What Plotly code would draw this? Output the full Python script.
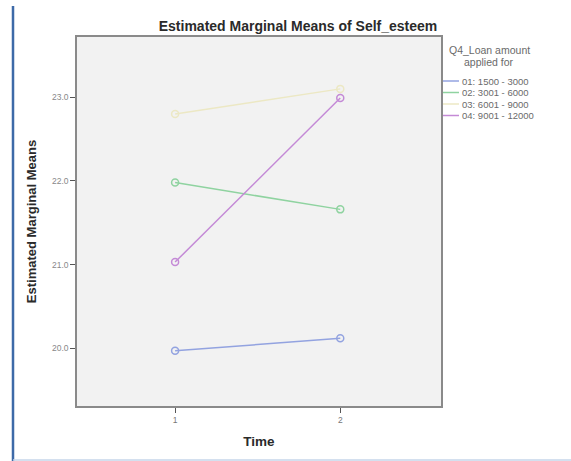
import plotly.graph_objects as go

time_points = [1, 2]
series_names = ["01: 1500 - 3000", "02: 3001 - 6000", "03: 6001 - 9000", "04: 9001 - 12000"]
series_values = [
    [19.97, 20.12],
    [21.98, 21.66],
    [22.80, 23.10],
    [21.03, 22.99],
]
series_colors = ["#93a3e0", "#8fd3a0", "#ece8c4", "#c48ad6"]
y_ticks = [20.0, 21.0, 22.0, 23.0]
y_tick_labels = ["20.0", "21.0", "22.0", "23.0"]
legend_title = ["Q4_Loan amount", "applied for"]

W, H = 571, 461
L, R, T, B = 77, 441, 37, 406
pw, ph = R - L, B - T


def px2px(x):
    return (x - L) / pw


def py2py(y):
    return (B - y) / ph


fig = go.Figure()
for name, vals, col in zip(series_names, series_values, series_colors):
    fig.add_trace(go.Scatter(
        x=time_points, y=vals, mode="lines+markers", name=name, showlegend=False,
        line=dict(color=col, width=1.5),
        marker=dict(symbol="circle-open", size=7, color=col, line=dict(width=1.5, color=col)),
    ))

shapes = [
    dict(type="line", xref="paper", yref="paper",
         x0=px2px(13), x1=px2px(13), y0=py2py(6), y1=py2py(461),
         line=dict(color="#3d6aa8", width=2.5)),
    dict(type="line", xref="paper", yref="paper",
         x0=px2px(13), x1=px2px(571), y0=py2py(460), y1=py2py(460),
         line=dict(color="#c6d6ea", width=1.5)),
]
annotations = [
    dict(text=legend_title[0], xref="paper", yref="paper", x=px2px(447), y=py2py(50),
         xanchor="left", yanchor="middle", showarrow=False,
         font=dict(size=10.5, color="#6a6a6a")),
    dict(text=legend_title[1], xref="paper", yref="paper", x=px2px(462), y=py2py(62),
         xanchor="left", yanchor="middle", showarrow=False,
         font=dict(size=10.5, color="#6a6a6a")),
]
row_y = 81
for name, col in zip(series_names, series_colors):
    shapes.append(dict(type="line", xref="paper", yref="paper",
                       x0=px2px(443), x1=px2px(459), y0=py2py(row_y), y1=py2py(row_y),
                       line=dict(color=col, width=1.5)))
    annotations.append(dict(text=name, xref="paper", yref="paper", x=px2px(460), y=py2py(row_y),
                            xanchor="left", yanchor="middle", showarrow=False,
                            font=dict(size=9.5, color="#6a6a6a")))
    row_y += 11.5

fig.update_layout(
    width=W, height=H,
    margin=dict(l=L, r=W - R, t=T, b=H - B),
    paper_bgcolor="white",
    plot_bgcolor="#f2f2f2",
    font=dict(family="Liberation Sans, Arial", color="#555555", size=8),
    title=dict(text="<b>Estimated Marginal Means of Self_esteem</b>",
               x=px2px(298), xref="paper", xanchor="center",
               y=1 - 26 / H, yanchor="middle",
               font=dict(size=14, color="#2a2a2a")),
    xaxis=dict(range=[0.406, 2.61], tickvals=time_points, ticktext=["1", "2"],
               showgrid=False, zeroline=False, showline=True, mirror=True,
               linecolor="#8a8a8a", linewidth=1.5,
               ticks="outside", ticklen=5, tickcolor="#555555",
               tickfont=dict(size=8.5, color="#777777"),
               title=dict(text="<b>Time</b>", font=dict(size=13.5, color="#2a2a2a"), standoff=13)),
    yaxis=dict(range=[19.31, 23.72], tickvals=y_ticks, ticktext=y_tick_labels,
               showgrid=False, zeroline=False, showline=True, mirror=True,
               linecolor="#8a8a8a", linewidth=1.5,
               ticks="outside", ticklen=5, tickcolor="#555555",
               tickfont=dict(size=8.5, color="#888888"),
               title=dict(text="<b>Estimated Marginal Means</b>", font=dict(size=13, color="#2a2a2a"), standoff=12)),
    shapes=shapes,
    annotations=annotations,
)

fig.write_html("out.html", config={"displayModeBar": False},
               post_script="document.body.style.margin='0';document.body.style.overflow='hidden';")
